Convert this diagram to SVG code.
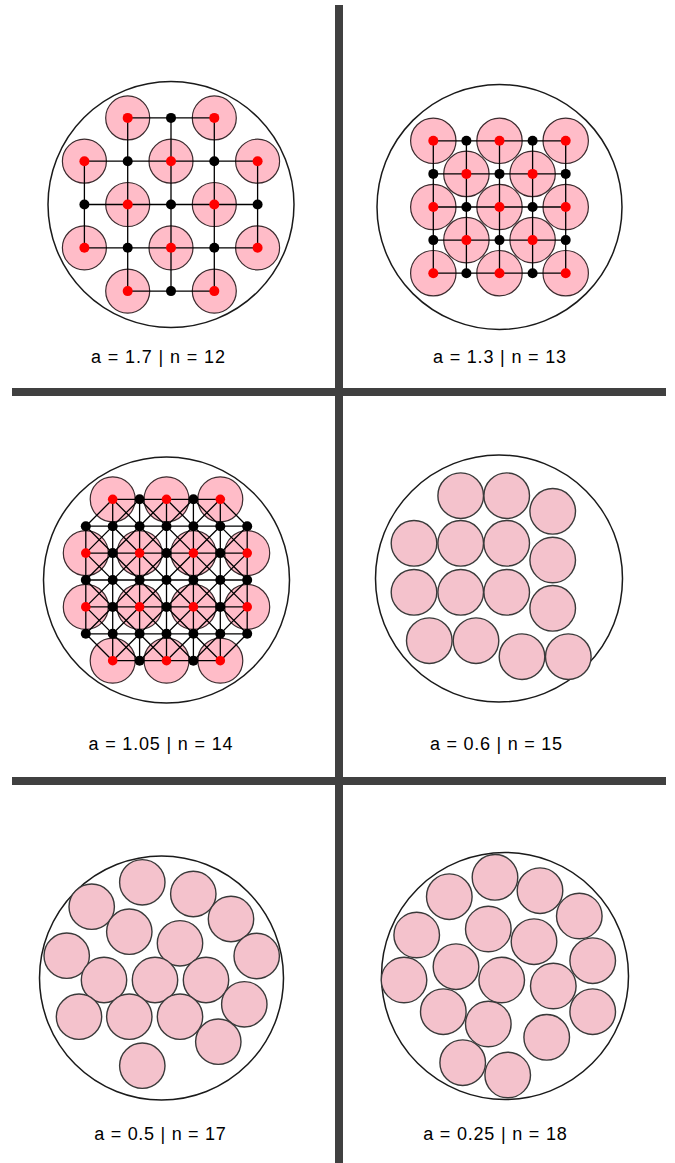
<svg xmlns="http://www.w3.org/2000/svg" width="675" height="1163" viewBox="0 0 675 1163">
<style>
.bg{fill:#ffffff}
.bar{fill:#404040}
.ring{fill:none;stroke:#1a1a1a;stroke-width:1.5}
.pk{fill:#ffbcc8;stroke:#3b2b2e;stroke-width:1.2}
.pk2{fill:#f4c2cc;stroke:#3a3a3a;stroke-width:1.4}
.ln{fill:none;stroke:#000;stroke-width:1.3}
.rd{fill:#ff0000}
.bk{fill:#000}
.lbl{font-family:"Liberation Sans",Arial,sans-serif;font-size:18px;text-anchor:middle;fill:#000}
</style>
<rect class="bg" x="0" y="0" width="675" height="1163"/>

<g id="dividers">
<rect class="bar" x="335" y="5" width="8" height="1158"/>
<rect class="bar" x="12" y="388" width="654" height="8"/>
<rect class="bar" x="12" y="777" width="654" height="8"/>
</g>

<!-- Panel 1 -->
<g id="panel1">
<circle class="ring" cx="171" cy="204.5" r="123"/>
<g id="p1-particles">
<circle class="pk" cx="127.7" cy="117.9" r="22"/>
<circle class="pk" cx="214.3" cy="117.9" r="22"/>
<circle class="pk" cx="84.4" cy="161.2" r="22"/>
<circle class="pk" cx="171" cy="161.2" r="22"/>
<circle class="pk" cx="257.6" cy="161.2" r="22"/>
<circle class="pk" cx="127.7" cy="204.5" r="22"/>
<circle class="pk" cx="214.3" cy="204.5" r="22"/>
<circle class="pk" cx="84.4" cy="247.8" r="22"/>
<circle class="pk" cx="171" cy="247.8" r="22"/>
<circle class="pk" cx="257.6" cy="247.8" r="22"/>
<circle class="pk" cx="127.7" cy="291.1" r="22"/>
<circle class="pk" cx="214.3" cy="291.1" r="22"/>
</g>
<g id="p1-connectors">
<path class="ln" d="M127.7 117.9H214.3M84.4 161.2H257.6M84.4 204.5H257.6M84.4 247.8H257.6M127.7 291.1H214.3M84.4 161.2V247.8M127.7 117.9V291.1M171 117.9V291.1M214.3 117.9V291.1M257.6 161.2V247.8"/>
</g>
<g id="p1-nodes">
<circle class="rd" cx="127.7" cy="117.9" r="5"/>
<circle class="rd" cx="214.3" cy="117.9" r="5"/>
<circle class="rd" cx="84.4" cy="161.2" r="5"/>
<circle class="rd" cx="171" cy="161.2" r="5"/>
<circle class="rd" cx="257.6" cy="161.2" r="5"/>
<circle class="rd" cx="127.7" cy="204.5" r="5"/>
<circle class="rd" cx="214.3" cy="204.5" r="5"/>
<circle class="rd" cx="84.4" cy="247.8" r="5"/>
<circle class="rd" cx="171" cy="247.8" r="5"/>
<circle class="rd" cx="257.6" cy="247.8" r="5"/>
<circle class="rd" cx="127.7" cy="291.1" r="5"/>
<circle class="rd" cx="214.3" cy="291.1" r="5"/>
<circle class="bk" cx="171" cy="117.9" r="5"/>
<circle class="bk" cx="127.7" cy="161.2" r="5"/>
<circle class="bk" cx="214.3" cy="161.2" r="5"/>
<circle class="bk" cx="84.4" cy="204.5" r="5"/>
<circle class="bk" cx="171" cy="204.5" r="5"/>
<circle class="bk" cx="257.6" cy="204.5" r="5"/>
<circle class="bk" cx="127.7" cy="247.8" r="5"/>
<circle class="bk" cx="214.3" cy="247.8" r="5"/>
<circle class="bk" cx="171" cy="291.1" r="5"/>
</g>
<text class="lbl" x="158" y="363" textLength="134" lengthAdjust="spacing">a = 1.7 | n = 12</text>
</g>

<!-- Panel 2 -->
<g id="panel2">
<circle class="ring" cx="499.5" cy="207" r="122.5"/>
<g id="p2-particles">
<circle class="pk" cx="433.3" cy="140.8" r="22.7"/>
<circle class="pk" cx="499.5" cy="140.8" r="22.7"/>
<circle class="pk" cx="565.7" cy="140.8" r="22.7"/>
<circle class="pk" cx="466.4" cy="173.9" r="22.7"/>
<circle class="pk" cx="532.6" cy="173.9" r="22.7"/>
<circle class="pk" cx="433.3" cy="207" r="22.7"/>
<circle class="pk" cx="499.5" cy="207" r="22.7"/>
<circle class="pk" cx="565.7" cy="207" r="22.7"/>
<circle class="pk" cx="466.4" cy="240.1" r="22.7"/>
<circle class="pk" cx="532.6" cy="240.1" r="22.7"/>
<circle class="pk" cx="433.3" cy="273.2" r="22.7"/>
<circle class="pk" cx="499.5" cy="273.2" r="22.7"/>
<circle class="pk" cx="565.7" cy="273.2" r="22.7"/>
</g>
<g id="p2-connectors">
<path class="ln" d="M433.3 140.8H565.7M433.3 173.9H565.7M433.3 207H565.7M433.3 240.1H565.7M433.3 273.2H565.7M433.3 140.8V273.2M466.4 140.8V273.2M499.5 140.8V273.2M532.6 140.8V273.2M565.7 140.8V273.2"/>
</g>
<g id="p2-nodes">
<circle class="rd" cx="433.3" cy="140.8" r="5"/>
<circle class="rd" cx="499.5" cy="140.8" r="5"/>
<circle class="rd" cx="565.7" cy="140.8" r="5"/>
<circle class="rd" cx="466.4" cy="173.9" r="5"/>
<circle class="rd" cx="532.6" cy="173.9" r="5"/>
<circle class="rd" cx="433.3" cy="207" r="5"/>
<circle class="rd" cx="499.5" cy="207" r="5"/>
<circle class="rd" cx="565.7" cy="207" r="5"/>
<circle class="rd" cx="466.4" cy="240.1" r="5"/>
<circle class="rd" cx="532.6" cy="240.1" r="5"/>
<circle class="rd" cx="433.3" cy="273.2" r="5"/>
<circle class="rd" cx="499.5" cy="273.2" r="5"/>
<circle class="rd" cx="565.7" cy="273.2" r="5"/>
<circle class="bk" cx="466.4" cy="140.8" r="5"/>
<circle class="bk" cx="532.6" cy="140.8" r="5"/>
<circle class="bk" cx="433.3" cy="173.9" r="5"/>
<circle class="bk" cx="499.5" cy="173.9" r="5"/>
<circle class="bk" cx="565.7" cy="173.9" r="5"/>
<circle class="bk" cx="466.4" cy="207" r="5"/>
<circle class="bk" cx="532.6" cy="207" r="5"/>
<circle class="bk" cx="433.3" cy="240.1" r="5"/>
<circle class="bk" cx="499.5" cy="240.1" r="5"/>
<circle class="bk" cx="565.7" cy="240.1" r="5"/>
<circle class="bk" cx="466.4" cy="273.2" r="5"/>
<circle class="bk" cx="532.6" cy="273.2" r="5"/>
</g>
<text class="lbl" x="499.5" y="363" textLength="133" lengthAdjust="spacing">a = 1.3 | n = 13</text>
</g>

<!-- Panel 3 -->
<g id="panel3">
<circle class="ring" cx="166.5" cy="580" r="123"/>
<g id="p3-particles">
<circle class="pk" cx="112.7" cy="499.3" r="22.5"/>
<circle class="pk" cx="166.5" cy="499.3" r="22.5"/>
<circle class="pk" cx="220.3" cy="499.3" r="22.5"/>
<circle class="pk" cx="85.8" cy="553.1" r="22.5"/>
<circle class="pk" cx="139.6" cy="553.1" r="22.5"/>
<circle class="pk" cx="193.4" cy="553.1" r="22.5"/>
<circle class="pk" cx="247.2" cy="553.1" r="22.5"/>
<circle class="pk" cx="85.8" cy="606.9" r="22.5"/>
<circle class="pk" cx="139.6" cy="606.9" r="22.5"/>
<circle class="pk" cx="193.4" cy="606.9" r="22.5"/>
<circle class="pk" cx="247.2" cy="606.9" r="22.5"/>
<circle class="pk" cx="112.7" cy="660.7" r="22.5"/>
<circle class="pk" cx="166.5" cy="660.7" r="22.5"/>
<circle class="pk" cx="220.3" cy="660.7" r="22.5"/>
</g>
<g id="p3-connectors">
<path class="ln" d="M112.7 499.3H220.3M85.8 526.2H247.2M85.8 553.1H247.2M85.8 580H247.2M85.8 606.9H247.2M85.8 633.8H247.2M112.7 660.7H220.3M85.8 526.2V633.8M112.7 499.3V660.7M139.6 499.3V660.7M166.5 499.3V660.7M193.4 499.3V660.7M220.3 499.3V660.7M247.2 526.2V633.8"/>
<path class="ln" d="M112.7 526.2L220.3 633.8M85.8 526.2L220.3 660.7M85.8 553.1L193.4 660.7M85.8 580L166.5 660.7M85.8 606.9L139.6 660.7M85.8 633.8L112.7 660.7M112.7 499.3L247.2 633.8M139.6 499.3L247.2 606.9M166.5 499.3L247.2 580M193.4 499.3L247.2 553.1M220.3 499.3L247.2 526.2"/>
<path class="ln" d="M112.7 499.3L85.8 526.2M139.6 499.3L85.8 553.1M166.5 499.3L85.8 580M193.4 499.3L85.8 606.9M220.3 499.3L85.8 633.8M220.3 526.2L112.7 633.8M247.2 526.2L112.7 660.7M247.2 553.1L139.6 660.7M247.2 580L166.5 660.7M247.2 606.9L193.4 660.7M247.2 633.8L220.3 660.7"/>
</g>
<g id="p3-nodes">
<circle class="rd" cx="112.7" cy="499.3" r="4.8"/>
<circle class="rd" cx="166.5" cy="499.3" r="4.8"/>
<circle class="rd" cx="220.3" cy="499.3" r="4.8"/>
<circle class="rd" cx="85.8" cy="553.1" r="4.8"/>
<circle class="rd" cx="139.6" cy="553.1" r="4.8"/>
<circle class="rd" cx="193.4" cy="553.1" r="4.8"/>
<circle class="rd" cx="247.2" cy="553.1" r="4.8"/>
<circle class="rd" cx="85.8" cy="606.9" r="4.8"/>
<circle class="rd" cx="139.6" cy="606.9" r="4.8"/>
<circle class="rd" cx="193.4" cy="606.9" r="4.8"/>
<circle class="rd" cx="247.2" cy="606.9" r="4.8"/>
<circle class="rd" cx="112.7" cy="660.7" r="4.8"/>
<circle class="rd" cx="166.5" cy="660.7" r="4.8"/>
<circle class="rd" cx="220.3" cy="660.7" r="4.8"/>
<circle class="bk" cx="139.6" cy="499.3" r="5"/>
<circle class="bk" cx="193.4" cy="499.3" r="5"/>
<circle class="bk" cx="85.8" cy="526.2" r="5"/>
<circle class="bk" cx="112.7" cy="526.2" r="5"/>
<circle class="bk" cx="139.6" cy="526.2" r="5"/>
<circle class="bk" cx="166.5" cy="526.2" r="5"/>
<circle class="bk" cx="193.4" cy="526.2" r="5"/>
<circle class="bk" cx="220.3" cy="526.2" r="5"/>
<circle class="bk" cx="247.2" cy="526.2" r="5"/>
<circle class="bk" cx="112.7" cy="553.1" r="5"/>
<circle class="bk" cx="166.5" cy="553.1" r="5"/>
<circle class="bk" cx="220.3" cy="553.1" r="5"/>
<circle class="bk" cx="85.8" cy="580" r="5"/>
<circle class="bk" cx="112.7" cy="580" r="5"/>
<circle class="bk" cx="139.6" cy="580" r="5"/>
<circle class="bk" cx="166.5" cy="580" r="5"/>
<circle class="bk" cx="193.4" cy="580" r="5"/>
<circle class="bk" cx="220.3" cy="580" r="5"/>
<circle class="bk" cx="247.2" cy="580" r="5"/>
<circle class="bk" cx="112.7" cy="606.9" r="5"/>
<circle class="bk" cx="166.5" cy="606.9" r="5"/>
<circle class="bk" cx="220.3" cy="606.9" r="5"/>
<circle class="bk" cx="85.8" cy="633.8" r="5"/>
<circle class="bk" cx="112.7" cy="633.8" r="5"/>
<circle class="bk" cx="139.6" cy="633.8" r="5"/>
<circle class="bk" cx="166.5" cy="633.8" r="5"/>
<circle class="bk" cx="193.4" cy="633.8" r="5"/>
<circle class="bk" cx="220.3" cy="633.8" r="5"/>
<circle class="bk" cx="247.2" cy="633.8" r="5"/>
<circle class="bk" cx="139.6" cy="660.7" r="5"/>
<circle class="bk" cx="193.4" cy="660.7" r="5"/>
</g>
<text class="lbl" x="160.5" y="749.5" textLength="144" lengthAdjust="spacing">a = 1.05 | n = 14</text>
</g>

<!-- Panel 4 -->
<g id="panel4">
<circle class="ring" cx="499" cy="578.5" r="123.5"/>
<g id="p4-particles">
<circle class="pk2" cx="460.7" cy="495.7" r="22.8"/>
<circle class="pk2" cx="506.7" cy="495.7" r="22.8"/>
<circle class="pk2" cx="552.7" cy="511.3" r="22.8"/>
<circle class="pk2" cx="414" cy="543.3" r="22.8"/>
<circle class="pk2" cx="460.7" cy="543.3" r="22.8"/>
<circle class="pk2" cx="506.7" cy="543.3" r="22.8"/>
<circle class="pk2" cx="552.7" cy="560" r="22.8"/>
<circle class="pk2" cx="414" cy="592.3" r="22.8"/>
<circle class="pk2" cx="460.7" cy="592.3" r="22.8"/>
<circle class="pk2" cx="506.7" cy="592.3" r="22.8"/>
<circle class="pk2" cx="552.7" cy="608.3" r="22.8"/>
<circle class="pk2" cx="429.3" cy="640.7" r="22.8"/>
<circle class="pk2" cx="476" cy="640.7" r="22.8"/>
<circle class="pk2" cx="522" cy="656.7" r="22.8"/>
<circle class="pk2" cx="568.3" cy="656.7" r="22.8"/>
</g>
<text class="lbl" x="496" y="749.5" textLength="132" lengthAdjust="spacing">a = 0.6 | n = 15</text>
</g>

<!-- Panel 5 -->
<g id="panel5">
<circle class="ring" cx="161.5" cy="978" r="122"/>
<g id="p5-particles">
<circle class="pk2" cx="142.3" cy="882.3" r="22.7"/>
<circle class="pk2" cx="193.3" cy="894" r="22.7"/>
<circle class="pk2" cx="91.7" cy="906.7" r="22.7"/>
<circle class="pk2" cx="231" cy="919" r="22.7"/>
<circle class="pk2" cx="129.3" cy="931.7" r="22.7"/>
<circle class="pk2" cx="180" cy="943.3" r="22.7"/>
<circle class="pk2" cx="66.7" cy="955.7" r="22.7"/>
<circle class="pk2" cx="256.7" cy="956" r="22.7"/>
<circle class="pk2" cx="104" cy="980" r="22.7"/>
<circle class="pk2" cx="155" cy="980" r="22.7"/>
<circle class="pk2" cx="206" cy="980" r="22.7"/>
<circle class="pk2" cx="244.3" cy="1004.3" r="22.7"/>
<circle class="pk2" cx="79" cy="1016.7" r="22.7"/>
<circle class="pk2" cx="129.3" cy="1016.7" r="22.7"/>
<circle class="pk2" cx="180" cy="1016.7" r="22.7"/>
<circle class="pk2" cx="218.3" cy="1041.7" r="22.7"/>
<circle class="pk2" cx="142.3" cy="1065.7" r="22.7"/>
</g>
<text class="lbl" x="160" y="1139.5" textLength="131.5" lengthAdjust="spacing">a = 0.5 | n = 17</text>
</g>

<!-- Panel 6 -->
<g id="panel6">
<circle class="ring" cx="505" cy="976" r="123.5"/>
<g id="p6-particles">
<circle class="pk2" cx="495" cy="877.3" r="22.8"/>
<circle class="pk2" cx="540" cy="890.7" r="22.8"/>
<circle class="pk2" cx="449.3" cy="896.7" r="22.8"/>
<circle class="pk2" cx="579.3" cy="916" r="22.8"/>
<circle class="pk2" cx="416.7" cy="935" r="22.8"/>
<circle class="pk2" cx="488.3" cy="929" r="22.8"/>
<circle class="pk2" cx="534" cy="941.7" r="22.8"/>
<circle class="pk2" cx="592.7" cy="960.7" r="22.8"/>
<circle class="pk2" cx="456" cy="966.7" r="22.8"/>
<circle class="pk2" cx="404" cy="980" r="22.8"/>
<circle class="pk2" cx="501.7" cy="980" r="22.8"/>
<circle class="pk2" cx="553.3" cy="986" r="22.8"/>
<circle class="pk2" cx="443.3" cy="1011.7" r="22.8"/>
<circle class="pk2" cx="592.7" cy="1011.7" r="22.8"/>
<circle class="pk2" cx="488.3" cy="1024" r="22.8"/>
<circle class="pk2" cx="546.7" cy="1037.3" r="22.8"/>
<circle class="pk2" cx="462.7" cy="1062.7" r="22.8"/>
<circle class="pk2" cx="507.7" cy="1075" r="22.8"/>
</g>
<text class="lbl" x="495" y="1139.5" textLength="143.5" lengthAdjust="spacing">a = 0.25 | n = 18</text>
</g>
</svg>
